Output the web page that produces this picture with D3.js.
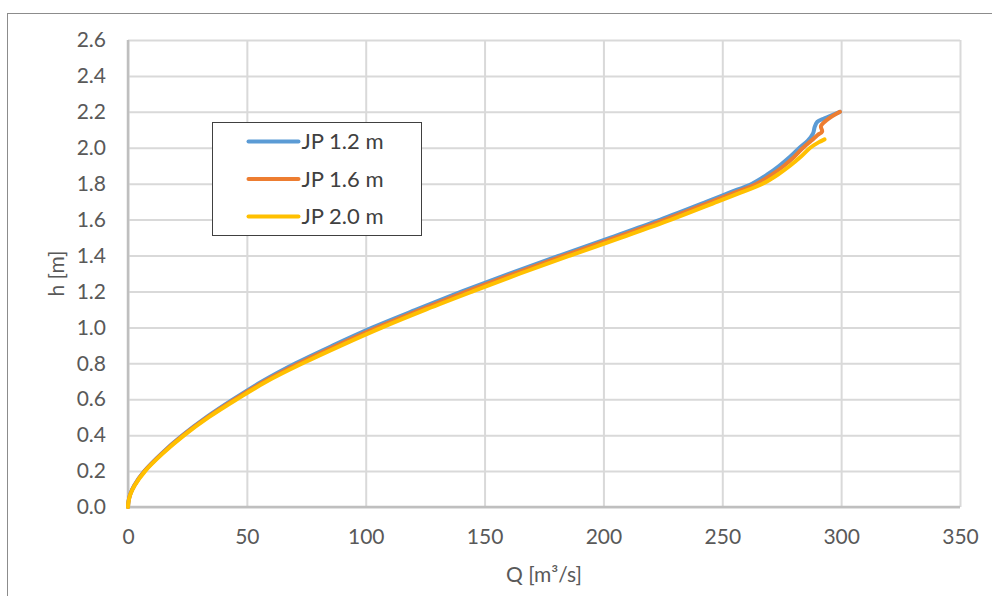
<!DOCTYPE html>
<html>
<head>
<meta charset="utf-8">
<script src="https://cdn.jsdelivr.net/npm/d3@7"></script>
<style>
  html, body { margin: 0; padding: 0; background: #fff; }
  svg { display: block; }
</style>
</head>
<body>
<div id="chart"></div>
<script>
// ---- data ----
const seriesNames = ["JP 1.2 m", "JP 1.6 m", "JP 2.0 m"];
const seriesColors = ["#5B9BD5", "#ED7D31", "#FFC000"];

const hBlue = [0, 0.03, 0.07, 0.12, 0.2, 0.3, 0.4, 0.5, 0.6, 0.7, 0.8, 0.9, 1.0, 1.1, 1.2, 1.3, 1.4, 1.5, 1.6, 1.7, 1.75, 1.8, 1.85, 1.9, 1.95, 2.0, 2.04, 2.08, 2.117, 2.145, 2.164, 2.2];
const qBlue = [0, 0.2, 0.9, 2.6, 6.9, 14.3, 23, 33, 44.3, 56.5, 70.5, 86.3, 103, 121.5, 140.5, 160.5, 181.5, 203, 224, 243.5, 253, 262.5, 268.8, 274, 278.5, 282.5, 286, 288.2, 288.9, 290, 293, 299.5];

const hOrange = [0, 0.03, 0.07, 0.12, 0.2, 0.3, 0.4, 0.5, 0.6, 0.7, 0.8, 0.9, 1.0, 1.1, 1.2, 1.3, 1.4, 1.5, 1.6, 1.7, 1.75, 1.8, 1.85, 1.9, 1.95, 2.0, 2.04, 2.07, 2.09, 2.12, 2.155, 2.2];
const qOrange = [0, 0.2, 0.95, 2.7, 7, 14.5, 23.3, 33.5, 45, 57.5, 72, 88, 105, 123.5, 142.5, 162.5, 183.5, 205, 226, 245.5, 255.2, 264.5, 270.8, 276, 280.3, 284, 287.5, 290, 292, 291.5, 294, 299.5];

const hYellow = [0, 0.03, 0.07, 0.12, 0.2, 0.3, 0.4, 0.5, 0.6, 0.7, 0.8, 0.9, 1.0, 1.1, 1.2, 1.3, 1.4, 1.5, 1.6, 1.7, 1.75, 1.8, 1.85, 1.9, 1.95, 2.0, 2.03, 2.047];
const qYellow = [0, 0.22, 1.0, 2.8, 7.2, 14.8, 23.7, 34, 45.8, 58.5, 73.5, 89.8, 107, 125.5, 145, 165, 186, 207.5, 228.5, 248, 257.7, 267, 273.3, 278.5, 283, 287, 290.5, 293];

const xTicks = [0, 50, 100, 150, 200, 250, 300, 350];
const yTicks = [0, 0.2, 0.4, 0.6, 0.8, 1.0, 1.2, 1.4, 1.6, 1.8, 2.0, 2.2, 2.4, 2.6];
const xTitle = "Q [m³/s]";
const yTitle = "h [m]";

// ---- layout ----
const W = 992, H = 596;
const margin = { left: 128, top: 40, right: 32, bottom: 89 };
const pw = W - margin.left - margin.right;  // 832
const ph = H - margin.top - margin.bottom;  // 467
const FONT = "Lato, 'Open Sans', sans-serif";

const svg = d3.select("#chart").append("svg").attr("width", W).attr("height", H);
svg.append("rect").attr("width", W).attr("height", H).attr("fill", "#fff");
svg.append("rect").attr("x", 7.5).attr("y", 13.5).attr("width", 1200).attr("height", 1200)
  .attr("fill", "none").attr("stroke", "#8c8c8c").attr("stroke-width", 1);

const g = svg.append("g").attr("transform", `translate(${margin.left},${margin.top})`);

const x = d3.scaleLinear().domain([0, 350]).range([0, pw]);
const y = d3.scaleLinear().domain([0, 2.6]).range([ph, 0]);

// x axis + vertical gridlines
const gx = g.append("g").attr("transform", `translate(0,${ph})`)
  .call(d3.axisBottom(x).tickValues(xTicks).tickSize(-ph).tickPadding(22).tickFormat(d3.format("d")));
gx.select(".domain").remove();
gx.selectAll(".tick line").attr("stroke", "#D9D9D9").attr("stroke-width", 2);
gx.selectAll(".tick text").attr("fill", "#595959").style("font-family", FONT).style("font-size", "21px");

// y axis + horizontal gridlines
const gy = g.append("g")
  .call(d3.axisLeft(y).tickValues(yTicks).tickSize(-pw).tickPadding(22).tickFormat(d3.format(".1f")));
gy.select(".domain").remove();
gy.selectAll(".tick line").attr("stroke", "#D9D9D9").attr("stroke-width", 2);
gy.selectAll(".tick text").attr("fill", "#595959").style("font-family", FONT).style("font-size", "21px");

// axis lines
g.append("line").attr("x1", 0).attr("x2", pw).attr("y1", ph).attr("y2", ph)
  .attr("stroke", "#BFBFBF").attr("stroke-width", 2.5);
g.append("line").attr("x1", 0).attr("x2", 0).attr("y1", 0).attr("y2", ph)
  .attr("stroke", "#BFBFBF").attr("stroke-width", 2.5);

// series
const series = [
  { name: seriesNames[0], color: seriesColors[0], q: qBlue, h: hBlue },
  { name: seriesNames[1], color: seriesColors[1], q: qOrange, h: hOrange },
  { name: seriesNames[2], color: seriesColors[2], q: qYellow, h: hYellow }
];
const line = d3.line().x(d => x(d[0])).y(d => y(d[1])).curve(d3.curveCatmullRom.alpha(0.5));
series.forEach(s => {
  const pts = s.q.map((q, i) => [q, s.h[i]]);
  g.append("path").datum(pts).attr("d", line)
    .attr("fill", "none").attr("stroke", s.color).attr("stroke-width", 4)
    .attr("stroke-linejoin", "round").attr("stroke-linecap", "round");
});

// axis titles
svg.append("text").attr("x", margin.left + pw / 2).attr("y", 582)
  .attr("text-anchor", "middle").attr("fill", "#595959")
  .style("font-family", FONT).style("font-size", "21px").text(xTitle);
svg.append("text").attr("transform", `translate(64,${margin.top + ph / 2}) rotate(-90)`)
  .attr("text-anchor", "middle").attr("fill", "#595959")
  .style("font-family", FONT).style("font-size", "21px").text(yTitle);

// legend
const lg = svg.append("g").attr("transform", "translate(212.5,122.5)");
lg.append("rect").attr("width", 209).attr("height", 113).attr("fill", "#fff")
  .attr("stroke", "#404040").attr("stroke-width", 1);
series.forEach((s, i) => {
  const cy = 19 + i * 37.5;
  lg.append("line").attr("x1", 36).attr("x2", 86).attr("y1", cy).attr("y2", cy)
    .attr("stroke", s.color).attr("stroke-width", 4).attr("stroke-linecap", "round");
  lg.append("text").attr("x", 89).attr("y", cy).attr("dy", "0.35em")
    .attr("fill", "#404040").style("font-family", FONT).style("font-size", "22px").text(s.name);
});
</script>
</body>
</html>
